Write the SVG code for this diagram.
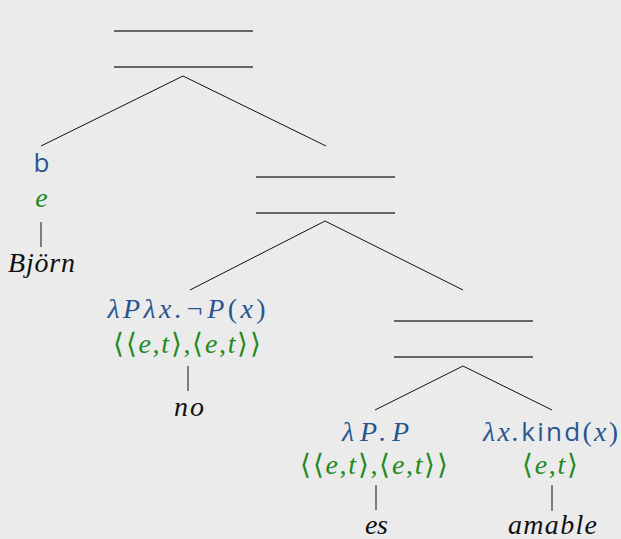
<svg xmlns="http://www.w3.org/2000/svg" width="621" height="539" viewBox="0 0 621 539">
<style>
.bg{fill:#ebebeb}
.bar{stroke:#3a3a3a;stroke-width:1.6;fill:none}
.edge{stroke:#111;stroke-width:1;fill:none}
.sem{fill:#28558f}
.typ{fill:#238a23}
.word{fill:#111}
</style>
<rect class="bg" x="0" y="0" width="621" height="539"/>
<g id="connectors">
<line class="edge" x1="183" y1="76" x2="41" y2="146"/>
<line class="edge" x1="183" y1="76" x2="326" y2="146"/>
<line class="edge" x1="325" y1="221" x2="190" y2="290"/>
<line class="edge" x1="325" y1="221" x2="463" y2="290"/>
<line class="edge" x1="463" y1="366" x2="375" y2="410"/>
<line class="edge" x1="463" y1="366" x2="552" y2="410"/>
<line class="edge" x1="41" y1="222" x2="41" y2="247"/>
<line class="edge" x1="188" y1="366" x2="188" y2="391"/>
<line class="edge" x1="376" y1="485" x2="376" y2="510"/>
<line class="edge" x1="552" y1="485" x2="552" y2="511"/>
</g>
<g id="root">
<line class="bar" x1="114" y1="31" x2="253" y2="31"/>
<line class="bar" x1="114" y1="67" x2="253" y2="67"/>
</g>
<g id="node-vp">
<line class="bar" x1="256" y1="177" x2="395" y2="177"/>
<line class="bar" x1="256" y1="213" x2="395" y2="213"/>
</g>
<g id="node-pred">
<line class="bar" x1="394" y1="321" x2="533" y2="321"/>
<line class="bar" x1="394" y1="357" x2="533" y2="357"/>
</g>
<g font-family="Liberation Serif" font-size="28" font-style="italic" text-anchor="middle">
<g id="node-b">
<text class="sem" x="41.5" y="172" font-family="Open Sans" font-style="normal" font-size="26">b</text>
<text class="typ" x="41.5" y="207">e</text>
</g>
<g id="word-bjorn"><text class="word" x="41.5" y="272" textLength="67" lengthAdjust="spacing">Björn</text></g>
<g id="node-no">
<text class="sem" x="186.5" y="318" textLength="158" lengthAdjust="spacing">λPλx.¬P<tspan font-style="normal">(</tspan>x<tspan font-style="normal">)</tspan></text>
<text class="typ" x="187" y="353" textLength="148" lengthAdjust="spacing"><tspan font-style="normal">⟨⟨</tspan>e<tspan font-style="normal">,</tspan>t<tspan font-style="normal">⟩,⟨</tspan>e<tspan font-style="normal">,</tspan>t<tspan font-style="normal">⟩⟩</tspan></text>
</g>
<g id="word-no"><text class="word" x="189" y="416" textLength="30" lengthAdjust="spacing">no</text></g>
<g id="node-es">
<text class="sem" x="375.5" y="441" textLength="67" lengthAdjust="spacing">λP.P</text>
<text class="typ" x="374" y="474" textLength="148" lengthAdjust="spacing"><tspan font-style="normal">⟨⟨</tspan>e<tspan font-style="normal">,</tspan>t<tspan font-style="normal">⟩,⟨</tspan>e<tspan font-style="normal">,</tspan>t<tspan font-style="normal">⟩⟩</tspan></text>
</g>
<g id="word-es"><text class="word" x="376.5" y="534" textLength="23" lengthAdjust="spacing">es</text></g>
<g id="node-amable">
<text class="sem" x="550.5" y="441" textLength="135" lengthAdjust="spacing">λx.<tspan font-family="Open Sans" font-style="normal" font-size="26">kind</tspan><tspan font-style="normal">(</tspan>x<tspan font-style="normal">)</tspan></text>
<text class="typ" x="550" y="474" textLength="56" lengthAdjust="spacing"><tspan font-style="normal">⟨</tspan>e<tspan font-style="normal">,</tspan>t<tspan font-style="normal">⟩</tspan></text>
</g>
<g id="word-amable"><text class="word" x="552.5" y="534" textLength="89" lengthAdjust="spacing">amable</text></g>
</g>
</svg>
